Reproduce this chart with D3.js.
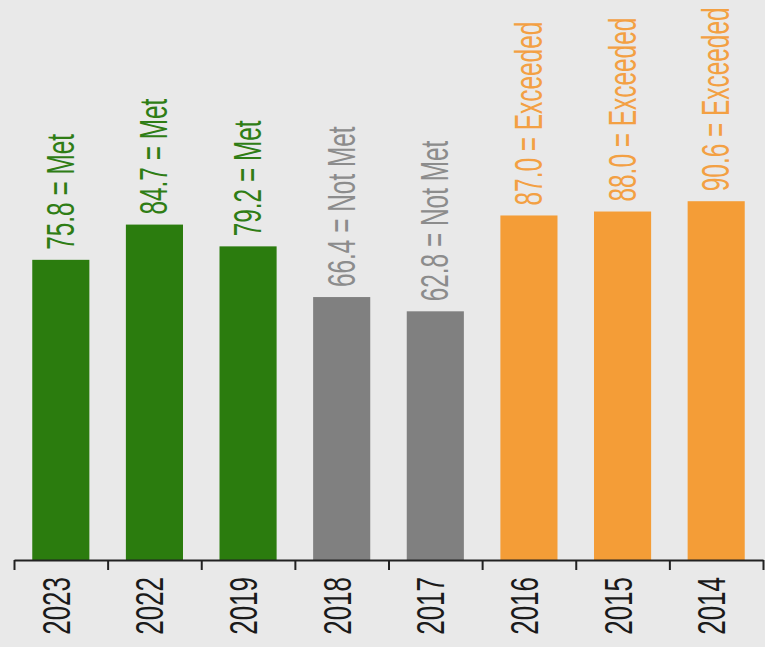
<!DOCTYPE html>
<html>
<head>
<meta charset="utf-8">
<script src="https://cdn.jsdelivr.net/npm/d3@7"></script>
<style>
  html, body { margin: 0; padding: 0; background: #e9e9e9; }
  svg { display: block; }
</style>
</head>
<body>
<svg id="chart" width="765" height="647"></svg>
<script>
const years = ["2023", "2022", "2019", "2018", "2017", "2016", "2015", "2014"];
const scores = [75.8, 84.7, 79.2, 66.4, 62.8, 87.0, 88.0, 90.6];
const statuses = ["Met", "Met", "Met", "Not Met", "Not Met", "Exceeded", "Exceeded", "Exceeded"];

const barColors = { "Met": "#2b7c0e", "Not Met": "#808080", "Exceeded": "#f49d37" };
const textColors = { "Met": "#2f7d15", "Not Met": "#8c8c8c", "Exceeded": "#f3a043" };

const data = years.map((y, i) => ({ year: y, value: scores[i], status: statuses[i] }));

const svg = d3.select("#chart");
const left = 14, right = 763, baseY = 560;

const x = d3.scaleBand()
    .domain(years)
    .range([left, right])
    .paddingInner(0.39)
    .paddingOuter(0.195);

const y = d3.scaleLinear()
    .domain([0, 100])
    .range([baseY, baseY - 396]);

// bars
svg.append("g")
    .selectAll("rect")
    .data(data)
    .join("rect")
    .attr("x", d => x(d.year))
    .attr("y", d => y(d.value))
    .attr("width", x.bandwidth())
    .attr("height", d => baseY - y(d.value))
    .attr("fill", d => barColors[d.status]);

// value labels, rotated (glyphs stretched sideways like the source)
svg.append("g")
    .selectAll("text")
    .data(data)
    .join("text")
    .attr("transform", d => `translate(${x(d.year) + x.bandwidth() / 2 + 13},${y(d.value) - 10}) rotate(-90) scale(1,1.6)`)
    .attr("font-family", "'Liberation Sans Narrow', 'Liberation Sans', sans-serif")
    .attr("font-size", 24.4)
    .attr("fill", d => textColors[d.status])
    .text(d => `${d.value.toFixed(1)} = ${d.status}`);

// axis with ticks between bands
const xEdge = d3.scaleLinear().domain([0, years.length]).range([left, right]);
const axis = svg.append("g")
    .attr("transform", `translate(0,${baseY})`)
    .call(d3.axisBottom(xEdge)
        .tickValues(d3.range(years.length + 1))
        .tickFormat("")
        .tickSize(10)
        .tickSizeOuter(0));
axis.select(".domain").attr("stroke", "#222").attr("stroke-width", 2);
axis.selectAll(".tick line").attr("stroke", "#222").attr("stroke-width", 2);

// year labels
svg.append("g")
    .selectAll("text")
    .data(years)
    .join("text")
    .attr("transform", d => `translate(${x(d) + x.bandwidth() / 2 + 9},577) rotate(-90) scale(1,1.5)`)
    .attr("text-anchor", "end")
    .attr("font-family", "'Liberation Sans Narrow', 'Liberation Sans', sans-serif")
    .attr("font-size", 26)
    .attr("fill", "#1a1a1a")
    .text(d => d);
</script>
</body>
</html>
